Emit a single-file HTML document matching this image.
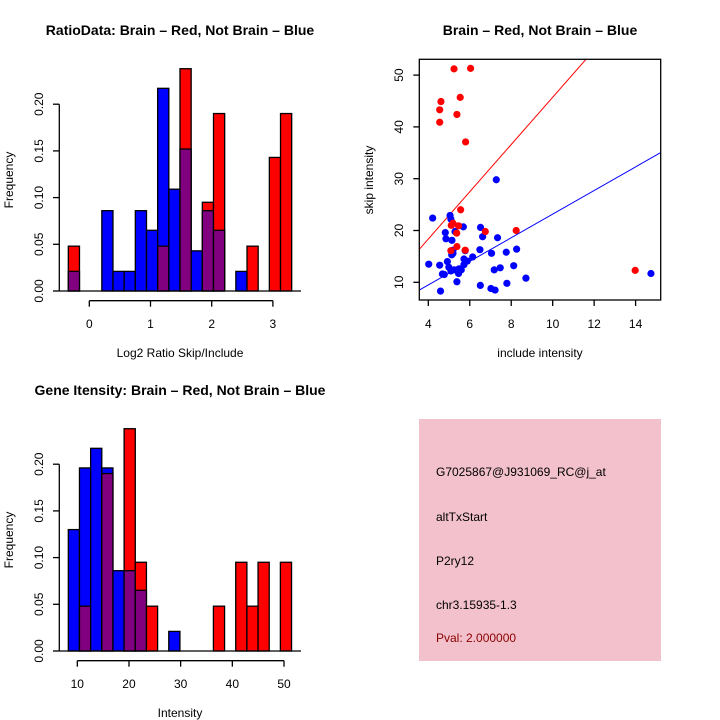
<!DOCTYPE html>
<html><head><meta charset="utf-8"><style>
body{margin:0;background:#fff}
svg{display:block;font-family:"Liberation Sans",sans-serif}
</style></head><body>
<svg id="c" width="720" height="720" viewBox="0 0 720 720">
<rect width="720" height="720" fill="#fff"/>
<g id="p1"></g>
<g id="p2"></g>
<g id="p3"></g>
<g>
<rect x="419" y="419" width="242" height="242" fill="#f2c1cc"/>
<g font-size="12">
<text x="436" y="476" fill="#000">G7025867@J931069_RC@j_at</text>
<text x="436" y="521" fill="#000">altTxStart</text>
<text x="436" y="565" fill="#000">P2ry12</text>
<text x="436" y="609" fill="#000">chr3.15935-1.3</text>
<text x="436" y="642" fill="#8b0000">Pval: 2.000000</text>
</g></g>
</svg>
<script>
// Ratio histogram data
const ratioBinStart = -0.343;
const ratioBinWidth = 0.1825;
const ratioBlue = [0.021,0,0,0.086,0.021,0.021,0.086,0.065,0.217,0.109,0.152,0.043,0.086,0.065,0,0.021,0,0,0,0];
const ratioRed  = [0.048,0,0,0,0,0,0,0,0.048,0,0.238,0,0.095,0.190,0,0,0.048,0,0.143,0.190];
const ratioXTicks = [0,1,2,3];
// Intensity histogram data
const intBinStart = 8.26;
const intBinWidth = 2.16;
const intBlue = [0.130,0.196,0.217,0.196,0.086,0.086,0.065,0,0,0.021,0,0,0,0,0,0,0,0,0,0];
const intRed  = [0,0.048,0,0.190,0,0.238,0.095,0.048,0,0,0,0,0,0.048,0,0.095,0.048,0.095,0,0.095];
const intXTicks = [10,20,30,40,50];
const freqTicks = [0,0.05,0.10,0.15,0.20];
// Scatter data
const blueX = [4.21,5.05,5.09,7.28,4.82,5.29,5.69,6.52,6.62,7.34,4.85,5.14,5.19,5.78,5.13,5.19,6.49,7.05,7.76,8.26,6.14,5.72,5.88,5.72,4.92,4.02,4.55,4.99,5.09,5.25,5.48,5.59,5.46,4.68,4.77,7.18,7.47,8.12,5.38,8.71,6.51,7.79,7.02,7.22,4.59,14.74];
const blueY = [22.4,22.9,22.2,29.8,19.6,19.8,20.7,20.6,18.8,18.6,18.4,18.1,16.2,16.1,15.3,15.6,16.3,15.6,15.8,16.4,14.9,14.5,14.1,13.4,14.0,13.5,13.3,12.9,12.2,12.4,12.6,12.4,11.7,11.6,11.5,12.4,12.8,13.2,10.1,10.8,9.4,9.8,8.8,8.5,8.3,11.7];
const redX = [5.24,6.04,4.61,4.55,5.54,4.55,5.38,5.8,5.56,5.11,5.19,5.46,5.37,6.75,8.24,5.38,5.09,5.78,13.98];
const redY = [51.2,51.3,44.9,43.3,45.7,40.9,42.4,37.1,24.0,21.0,21.4,20.9,19.5,19.8,20.0,16.9,16.1,16.2,12.3];
const redFit = [0.12,4.56];
const blueFit = [0.36,2.28];
const scXTicks = [4,6,8,10,12,14];
const scYTicks = [10,20,30,40,50];

const NS="http://www.w3.org/2000/svg";
function mk(p,t,a,txt){const e=document.createElementNS(NS,t);for(const k in a)e.setAttribute(k,a[k]);if(txt!==undefined)e.textContent=txt;p.appendChild(e);return e;}

function hist(gid,oy,title,xlab,bs,bw,blue,red,xt,xmin,xscale,ticklabs){
  const g=document.getElementById(gid);
  const X=v=>xmin+(v)*xscale;
  const Y=f=>oy+291-f*(46.7/0.05);
  const bx=v=>X(v);
  let t=mk(g,'text',{x:180,y:oy+35,'font-size':14,'font-weight':'bold','text-anchor':'middle'},title);
  
  
  for(let i=0;i<blue.length;i++){
    const x0=bx(bs+i*bw), x1=bx(bs+(i+1)*bw);
    const b=blue[i], r=red[i];
    const hi=Math.max(b,r), lo=Math.min(b,r);
    if(hi>0){
      const e=mk(g,'rect',{x:x0,y:Y(hi),width:x1-x0,height:Y(0)-Y(hi),fill:r>b?'#ff0000':'#0000ff',stroke:'#000','stroke-width':1.3});
      
      
    }
    if(lo>0){
      const e=mk(g,'rect',{x:x0,y:Y(lo),width:x1-x0,height:Y(0)-Y(lo),fill:'#800080',stroke:'#000','stroke-width':1.3});
      
      
    }
  }
  let l=mk(g,'line',{x1:59.3,x2:301,y1:Y(0),y2:Y(0),stroke:'#000','stroke-width':1.3});
  
  
  const ya=mk(g,'g',{});
  
  
  mk(ya,'line',{x1:59.3,x2:59.3,y1:Y(0),y2:Y(0.2),stroke:'#000','stroke-width':1.3});
  freqTicks.forEach(f=>{
    mk(ya,'line',{x1:53,x2:59.3,y1:Y(f),y2:Y(f),stroke:'#000','stroke-width':1.3});
    const tt=mk(ya,'text',{x:0,y:0,'font-size':12,'text-anchor':'middle',transform:`translate(43,${Y(f)}) rotate(-90)`},f.toFixed(2));
    
    
  });
  const xa=mk(g,'g',{});
  
  
  const ay=oy+300.7;
  mk(xa,'line',{x1:X(xt[0]),x2:X(xt[xt.length-1]),y1:ay,y2:ay,stroke:'#000','stroke-width':1.3});
  xt.forEach(v=>{
    mk(xa,'line',{x1:X(v),x2:X(v),y1:ay,y2:ay+6,stroke:'#000','stroke-width':1.3});
    const tt=mk(xa,'text',{x:X(v),y:oy+328,'font-size':12,'text-anchor':'middle'},String(v));
    
    
  });
  t=mk(g,'text',{x:180,y:oy+357,'font-size':12,'text-anchor':'middle'},xlab);
  
  
  t=mk(g,'text',{x:0,y:0,'font-size':12,'text-anchor':'middle',transform:`translate(13,${oy+180}) rotate(-90)`},'Frequency');
  
  
}
// ratio: 0 at 89.3, 61.2 px/unit
hist('p1',0,'RatioData: Brain – Red, Not Brain – Blue','Log2 Ratio Skip/Include',ratioBinStart,ratioBinWidth,ratioBlue,ratioRed,ratioXTicks,89.3,61.2);
// intensity: 10 at 77.3, 5.167 px/unit
(function(){
  const xscale=5.1675, xmin=77.3-10*xscale;
  hist('p3',360,'Gene Itensity: Brain – Red, Not Brain – Blue','Intensity',intBinStart,intBinWidth,intBlue,intRed,intXTicks,xmin,xscale);
})();

// scatter
(function(){
  const g=document.getElementById('p2');
  const X=v=>428.3+(v-4)*20.73;
  const Y=v=>282.3-(v-10)*5.18;
  const L=419.3,R=660.7,T=59.3,B=300;
  let t=mk(g,'text',{x:540,y:35,'font-size':14,'font-weight':'bold','text-anchor':'middle'},'Brain – Red, Not Brain – Blue');
  
  
  const cp=mk(g,'clipPath',{id:'scclip'});
  mk(cp,'rect',{x:L,y:T,width:R-L,height:B-T});
  const inner=mk(g,'g',{'clip-path':'url(#scclip)'});
  function fit(f,col,name){
    const x0=(L-428.3)/20.73+4, x1=(R-428.3)/20.73+4;
    const e=mk(inner,'line',{x1:X(x0),y1:Y(f[0]+f[1]*x0),x2:X(x1),y2:Y(f[0]+f[1]*x1),stroke:col,'stroke-width':1});
    
    
  }
  fit(redFit,'#ff0000','red-fit-line');
  fit(blueFit,'#0000ff','blue-fit-line');
  blueX.forEach((x,i)=>{
    const c=mk(inner,'circle',{cx:X(x),cy:Y(blueY[i]),r:3.6,fill:'#0000ff'});
    
    
  });
  redX.forEach((x,i)=>{
    const c=mk(inner,'circle',{cx:X(x),cy:Y(redY[i]),r:3.6,fill:'#ff0000'});
    
    
  });
  let b=mk(g,'rect',{x:L,y:T,width:R-L,height:B-T,fill:'none',stroke:'#000','stroke-width':1.3});
  
  
  const xa=mk(g,'g',{});
  
  
  scXTicks.forEach(v=>{
    mk(xa,'line',{x1:X(v),x2:X(v),y1:B,y2:B+6,stroke:'#000','stroke-width':1.3});
    const tt=mk(xa,'text',{x:X(v),y:328,'font-size':12,'text-anchor':'middle'},String(v));
    
    
  });
  const ya=mk(g,'g',{});
  
  
  scYTicks.forEach(v=>{
    mk(ya,'line',{x1:L-6,x2:L,y1:Y(v),y2:Y(v),stroke:'#000','stroke-width':1.3});
    const tt=mk(ya,'text',{x:0,y:0,'font-size':12,'text-anchor':'middle',transform:`translate(403,${Y(v)}) rotate(-90)`},String(v));
    
    
  });
  t=mk(g,'text',{x:540,y:357,'font-size':12,'text-anchor':'middle'},'include intensity');
  
  
  t=mk(g,'text',{x:0,y:0,'font-size':12,'text-anchor':'middle',transform:'translate(373,180) rotate(-90)'},'skip intensity');
  
  
})();
</script>
</body></html>
